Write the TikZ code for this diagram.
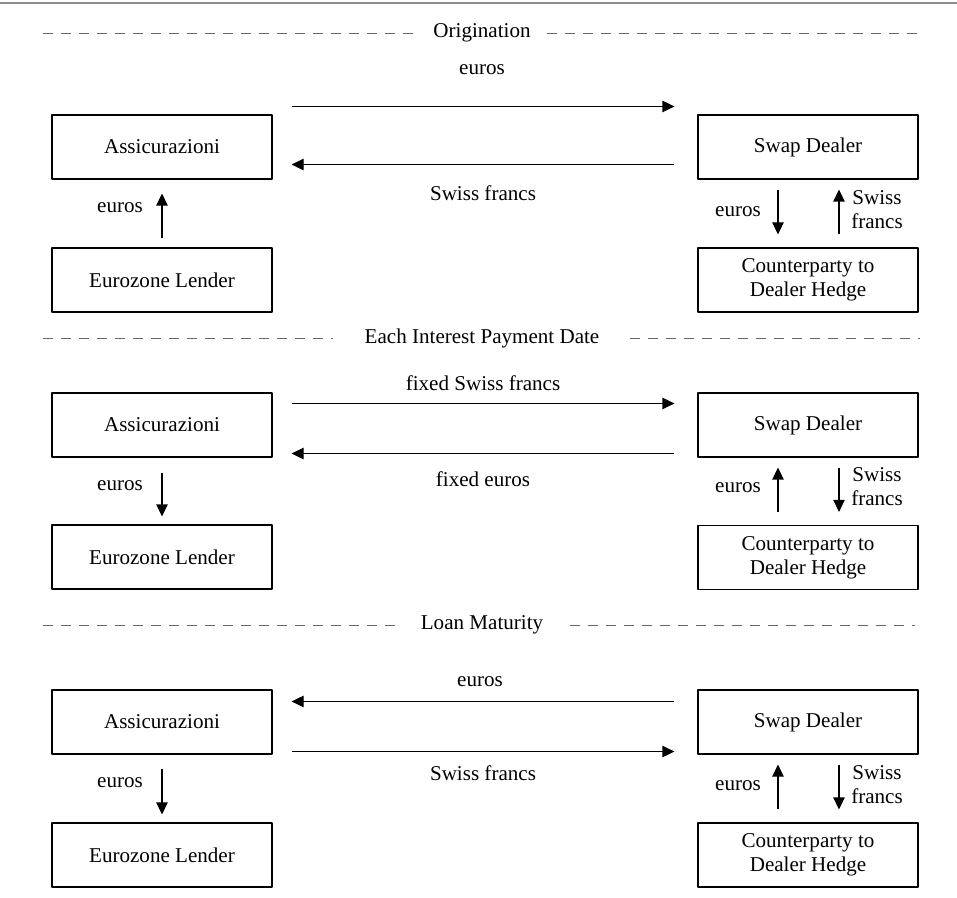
\documentclass[tikz,border=0pt]{standalone}
\usepackage{fontspec}
\setmainfont{Liberation Serif}
\usetikzlibrary{arrows.meta}
\tikzset{
  party/.style={draw, line width=0.8pt, minimum width=165pt, minimum height=48pt, align=center, inner sep=0pt},
  flow/.style={-{Triangle[length=9pt,width=8.5pt]}, line width=0.8pt},
  rule/.style={dash pattern=on 7.5pt off 6pt, line width=0.6pt, black!60},
  tag/.style={inner sep=0pt, align=center},
}
\begin{document}
\begin{tikzpicture}[x=0.75pt, y=-0.75pt, font=\fontsize{15.8}{18}\selectfont, line join=round]
	\useasboundingbox (0,0) rectangle (957,898);
	\draw[black!45, line width=2.2pt] (0,3) -- (957,3);
	% origination
	\node[tag] (t1) at (482,33) {Origination};
	\draw[rule] (43,33) -- (417,33) (547,33) -- (923,33);
	\node[party] (as1) at (162,147) {Assicurazioni};
	\node[party] (sd1) at (808,147) {Swap Dealer};
	\node[party] (el1) at (162,280) {Eurozone Lender};
	\node[party] (cp1) at (808,280) {Counterparty to\\Dealer Hedge};
	\draw[flow] ([shift={(19,-8)}]as1.north east) -- ([shift={(-23,-8)}]sd1.north west);
	\draw[flow] ([shift={(-23,-15)}]sd1.south west) -- ([shift={(19,-15)}]as1.south east);
	\draw[flow] ([yshift=6.75pt]el1.north) -- ([yshift=-10.5pt]as1.south);
	\draw[flow] ([shift={(-30,10)}]sd1.south) -- ([shift={(-30,-13)}]cp1.north);
	\draw[flow] ([shift={(31,-13)}]cp1.north) -- ([shift={(31,10)}]sd1.south);
	\path
	(482,70) node[tag] (l11) {euros}
	(483,193) node[tag] (l12) {Swiss francs}
	(120,208) node[tag] (l13) {euros}
	(738,212) node[tag] (l14) {euros}
	(877,210) node[tag] (l15) {Swiss\\francs};
	% interest dates
	\node[tag] (t2) at (482,338) {Each Interest Payment Date};
	\draw[rule] (43,338) -- (333,338) (630,338) -- (920,338);
	\node[party] (as2) at (162,425) {Assicurazioni};
	\node[party] (sd2) at (808,425) {Swap Dealer};
	\node[party] (el2) at (162,557) {Eurozone Lender};
	\node[party] (cp2) at (808,557.5) {Counterparty to\\Dealer Hedge};
	\draw[flow] ([shift={(19,11)}]as2.north east) -- ([shift={(-23,11)}]sd2.north west);
	\draw[flow] ([shift={(-23,-4)}]sd2.south west) -- ([shift={(19,-4)}]as2.south east);
	\draw[flow] ([yshift=-11.25pt]as2.south) -- ([yshift=6pt]el2.north);
	\draw[flow] ([shift={(-30,-13)}]cp2.north) -- ([shift={(-30,10)}]sd2.south);
	\draw[flow] ([shift={(31,10)}]sd2.south) -- ([shift={(31,-13)}]cp2.north);
	\path
	(483,383) node[tag] (l21) {fixed Swiss francs}
	(483,479) node[tag] (l22) {fixed euros}
	(120,486) node[tag] (l23) {euros}
	(738,488) node[tag] (l24) {euros}
	(877,487) node[tag] (l25) {Swiss\\francs};
	% maturity
	\node[tag] (t3) at (482,625) {Loan Maturity};
	\draw[rule] (43,625) -- (400,625) (570,625) -- (915,625);
	\node[party] (as3) at (162,722) {Assicurazioni};
	\node[party] (sd3) at (808,722) {Swap Dealer};
	\node[party] (el3) at (162,855) {Eurozone Lender};
	\node[party] (cp3) at (808,855) {Counterparty to\\Dealer Hedge};
	\draw[flow] ([shift={(-23,12)}]sd3.north west) -- ([shift={(19,12)}]as3.north east);
	\draw[flow] ([shift={(19,-3)}]as3.south east) -- ([shift={(-23,-3)}]sd3.south west);
	\draw[flow] ([yshift=-10.5pt]as3.south) -- ([yshift=6pt]el3.north);
	\draw[flow] ([shift={(-30,-13)}]cp3.north) -- ([shift={(-30,10)}]sd3.south);
	\draw[flow] ([shift={(31,10)}]sd3.south) -- ([shift={(31,-13)}]cp3.north);
	\path
	(480,682) node[tag] (l31) {euros}
	(483,773) node[tag] (l32) {Swiss francs}
	(120,783) node[tag] (l33) {euros}
	(738,786) node[tag] (l34) {euros}
	(877,785) node[tag] (l35) {Swiss\\francs};
\end{tikzpicture}
\end{document}
